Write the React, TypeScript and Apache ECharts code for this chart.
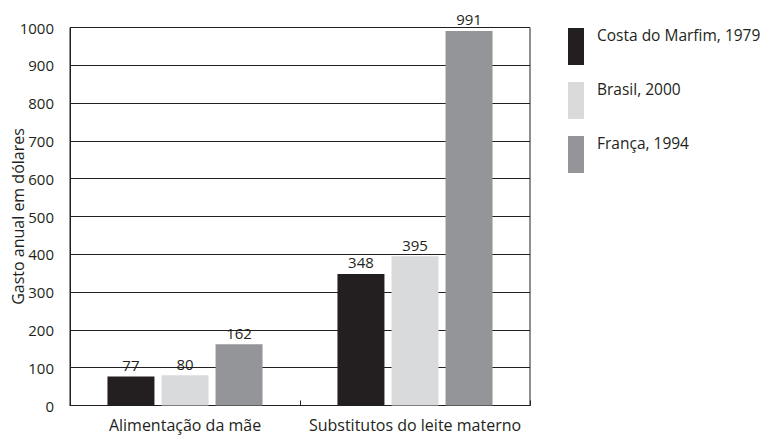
import React, { useEffect, useRef } from "react";
import * as echarts from "echarts";

const categories = ["Alimentação da mãe", "Substitutos do leite materno"];
const seriesNames = ["Costa do Marfim, 1979", "Brasil, 2000", "França, 1994"];
const costaValues = [77, 348];
const brasilValues = [80, 395];
const francaValues = [162, 991];
const yTicks = { min: 0, max: 1000, interval: 100 };
const colors = ["#231f20", "#d9dadb", "#939598"];

const FONT = "'Open Sans', 'DejaVu Sans', sans-serif";
const INK = "#231f20";

export default function App() {
  const ref = useRef<HTMLDivElement>(null);
  useEffect(() => {
    if (!ref.current) return;
    const chart = echarts.init(ref.current, null, { renderer: "svg" });
    const values = [costaValues, brasilValues, francaValues];
    chart.setOption({
      animation: false,
      textStyle: { fontFamily: FONT, color: INK },
      grid: {
        left: 70,
        right: 236,
        top: 27.5,
        bottom: 31.5,
        show: true,
        borderColor: INK,
        borderWidth: 1,
        containLabel: false,
        outerBoundsMode: "none",
      },
      legend: {
        orient: "vertical",
        left: 563,
        top: 22,
        itemWidth: 16,
        itemHeight: 37,
        itemGap: 16,
        icon: "rect",
        data: seriesNames,
        formatter: (name: string) => "{a|" + name + "}\n{b| }",
        textStyle: {
          fontFamily: FONT,
          fontSize: 15.5,
          color: INK,
          padding: [0, 0, 0, 8],
          rich: {
            a: { fontFamily: FONT, fontSize: 15.5, lineHeight: 14, color: INK },
            b: { fontFamily: FONT, fontSize: 15.5, lineHeight: 23, color: INK },
          },
        },
      },
      xAxis: {
        type: "category",
        data: categories,
        axisLine: { show: true, lineStyle: { color: INK, width: 1 } },
        axisTick: { show: true, inside: true, length: 5, interval: 0, lineStyle: { color: INK } },
        axisLabel: { fontFamily: FONT, fontSize: 16, color: INK, margin: 11, interval: 0 },
      },
      yAxis: {
        type: "value",
        min: yTicks.min,
        max: yTicks.max,
        interval: yTicks.interval,
        name: "Gasto anual em dólares",
        nameLocation: "middle",
        nameGap: 44,
        nameMoveOverlap: false,
        nameTextStyle: { fontFamily: FONT, fontSize: 16, color: INK },
        axisLine: { show: true, lineStyle: { color: INK, width: 1 } },
        axisTick: { show: false },
        axisLabel: {
          fontFamily: FONT,
          fontSize: 15,
          color: INK,
          margin: 16,
          formatter: (v: number) => String(v),
        },
        splitLine: { show: true, lineStyle: { color: INK, width: 1 } },
      },
      series: seriesNames.map((name, i) => ({
        name,
        type: "bar",
        data: values[i],
        barWidth: 47,
        barGap: "15%",
        itemStyle: { color: colors[i] },
        label: {
          show: true,
          position: "top",
          distance: 4,
          fontFamily: FONT,
          fontSize: 15,
          color: INK,
        },
      })),
    });
    return () => chart.dispose();
  }, []);
  return <div ref={ref} style={{ width: 766, height: 437, position: "absolute", left: 0, top: 0 }} />;
}
